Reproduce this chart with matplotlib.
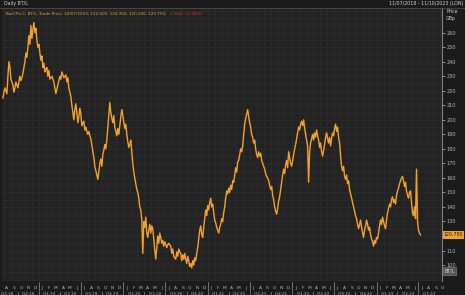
import matplotlib
matplotlib.use("Agg")
import matplotlib.pyplot as plt
import pandas as pd

# BT/L daily trade price (GBp)
start_date = "2018-07-29"
end_date = "2023-07-10"
price = [
    215, 219, 222, 220, 218, 230, 240, 236, 228, 226,
    224, 219, 222, 226, 224, 222, 226, 230, 227, 229,
    232, 236, 240, 246, 243, 250, 258, 252, 265, 256,
    262, 267, 260, 263, 255, 250, 252, 246, 241, 244,
    236, 239, 233, 235, 236, 230, 234, 228, 229, 230,
    228, 226, 222, 218, 221, 224, 227, 230, 228, 233,
    231, 229, 230, 231, 226, 229, 222, 219, 216, 210,
    205, 200, 207, 211, 205, 198, 202, 208, 204, 196,
    198, 199, 193, 195, 192, 190, 192, 189, 187, 183,
    178, 174, 168, 165, 162, 159, 164, 170, 173, 168,
    176, 179, 183, 180, 186, 195, 204, 212, 205, 201,
    198, 203, 195, 192, 189, 194, 190, 196, 202, 207,
    203, 198, 194, 197, 190, 185, 181, 183, 186, 178,
    170, 164, 160, 156, 152, 150, 146, 140, 138, 131,
    108, 130, 126, 133, 122, 119, 124, 128, 122, 127,
    125, 118, 110, 104, 112, 120, 115, 122, 119, 115,
    117, 113, 116, 114, 112, 114, 115, 114, 113, 108,
    111, 106, 105, 104, 109, 106, 111, 109, 108, 103,
    107, 104, 108, 104, 101, 106, 103, 99, 101, 98,
    103, 100, 105, 103, 108, 112, 118, 124, 127, 121,
    119, 126, 132, 138, 134, 141, 138, 143, 146, 140,
    142, 136, 131, 129, 126, 124, 122, 126, 128, 132,
    130, 136, 140, 146, 151, 149, 153, 150, 155, 152,
    158, 157, 162, 167, 164, 171, 172, 176, 180, 178,
    182, 190, 197, 201, 204, 207, 202, 198, 195, 190,
    188, 184, 186, 180, 176, 174, 178, 175, 177, 172,
    170, 168, 166, 163, 161, 160, 158, 155, 152, 154,
    148, 145, 140, 137, 135, 139, 144, 147, 152, 157,
    162, 166, 163, 169, 172, 167, 178, 174, 170, 168,
    172, 176, 180, 183, 187, 191, 195, 193, 197, 199,
    196, 200, 194, 190, 186, 182, 157, 178, 184, 187,
    190, 186, 191, 188, 193, 189, 186, 181, 184, 178,
    175, 179, 183, 188, 191, 187, 184, 188, 182, 187,
    191, 189, 194, 197, 192, 195, 188, 184, 175, 168,
    165, 168, 161, 159, 162, 156, 158, 152, 149, 146,
    143, 140, 137, 134, 132, 128, 125, 128, 131, 126,
    122, 119, 124, 127, 131, 128, 124, 126, 121, 118,
    116, 113, 117, 115, 119, 118, 122, 127, 131, 128,
    133, 130, 127, 125, 131, 136, 139, 142, 140, 145,
    147, 143, 145, 142, 148, 151, 153, 156, 158, 160,
    161, 158, 154, 157, 151, 148, 146, 150, 151, 143,
    136, 134, 140, 132, 166, 130, 124, 122, 120.75,
]
last_price = "120.750"
y_ticks = list(range(100, 261, 10))
legend_main = "BarCPx:C, BT/L, Trade Price, 10/07/2023, 122.500, 124.350, 120.100, 120.750,"
legend_change = "-1.550, (-1.25%)"

dates = pd.date_range(start_date, end_date, periods=len(price))

BG = "#1b1b1b"
PLOT_BG = "#232323"
GRID = "#2e2e2e"
ORANGE = "#f2a22c"
TXT = "#b8b8b8"

fig = plt.figure(figsize=(4.65, 2.95), dpi=100, facecolor=BG)
ax = fig.add_axes([2 / 465, 14 / 295, 440 / 465, 273 / 295], facecolor=PLOT_BG)

ax.plot(dates, price, color=ORANGE, lw=1.0, zorder=3)

x0 = pd.Timestamp("2018-07-25")
x1 = pd.Timestamp("2023-10-11")
ax.set_xlim(x0, x1)
ax.set_ylim(89, 277)

# grid: monthly verticals, every 5 horizontally
for m in pd.date_range("2018-08-01", "2023-10-01", freq="MS"):
    ax.axvline(m, color=GRID, lw=0.5, zorder=1)
for v in range(90, 280, 5):
    ax.axhline(v, color=GRID, lw=0.5, zorder=1)

# right-hand price axis; the 120 label sits under the last-price tag
ax.yaxis.tick_right()
ax.set_yticks(y_ticks)
ax.set_yticklabels(["" if v == 120 else str(v) for v in y_ticks])
ax.tick_params(axis="y", colors=TXT, labelsize=3.6, length=2, width=0.5, pad=1.5)
ax.set_xticks([])
for side in ["left", "top", "bottom"]:
    ax.spines[side].set_visible(False)
ax.spines["right"].set_color("#9a9a9a")
ax.spines["right"].set_linewidth(0.6)

# bottom month letters and quarter labels
tr = ax.get_xaxis_transform()
mid_months = pd.date_range("2018-08-01", "2023-10-01", freq="MS") + pd.Timedelta(days=14)
for m in mid_months:
    ax.text(m, -0.018, m.strftime("%b")[0], transform=tr, ha="center", va="top",
            fontsize=3.2, color=TXT, clip_on=False)
for b in pd.date_range("2019-01-01", "2023-07-01", freq="6MS"):
    ax.plot([b, b], [-0.005, -0.035], transform=tr, color=TXT, lw=0.4, clip_on=False)
for q in pd.date_range("2018-07-01", "2023-07-01", freq="QS"):
    mid = q + pd.Timedelta(days=45)
    ax.text(mid, -0.04, f"Q{q.quarter} {q.strftime('%y')}", transform=tr, ha="center",
            va="top", fontsize=3.0, color=TXT, clip_on=False)
    if q > x0:
        ax.plot([q, q], [-0.04, -0.07], transform=tr, color=TXT, lw=0.4, clip_on=False)

# header texts
fig.text(4 / 465, 1 - 4 / 295, "Daily BT/L", fontsize=3.4, color="#d0d0d0", va="center")
fig.add_artist(plt.Line2D([0, 1], [1 - 7.5 / 295] * 2, color="#555555", lw=0.5))
fig.text(463 / 465, 1 - 4 / 295, "11/07/2018 - 11/10/2023 (LON)", fontsize=3.4,
         color="#d0d0d0", ha="right", va="center")
fig.text(446 / 465, 1 - 15 / 295, "Price\nGBp", fontsize=3.4, color="#d0d0d0",
         va="center", linespacing=1.3)
t = ax.text(0.01, 0.985, legend_main, transform=ax.transAxes, fontsize=3.0,
            color="#e0a040", va="top")
fig.canvas.draw()
bb = t.get_window_extent().transformed(ax.transAxes.inverted())
ax.text(bb.x1 + 0.005, 0.985, legend_change, transform=ax.transAxes, fontsize=3.0,
        color="#e23a2e", va="top")

# last price tag and series box
ax.text(1.004, price[-1], last_price, transform=ax.get_yaxis_transform(), fontsize=3.4,
        color="#1a1a1a", va="center", ha="left", zorder=5, clip_on=False,
        bbox=dict(boxstyle="square,pad=0.25", fc=ORANGE, ec="none"))
ax.text(1.006, 96, "BT/L", transform=ax.get_yaxis_transform(), fontsize=3.4,
        color="#dddddd", va="center", ha="left", zorder=5, clip_on=False,
        bbox=dict(boxstyle="square,pad=0.3", fc="#555555", ec="#888888", lw=0.4))

fig.savefig("out.png", dpi=100, facecolor=BG)
